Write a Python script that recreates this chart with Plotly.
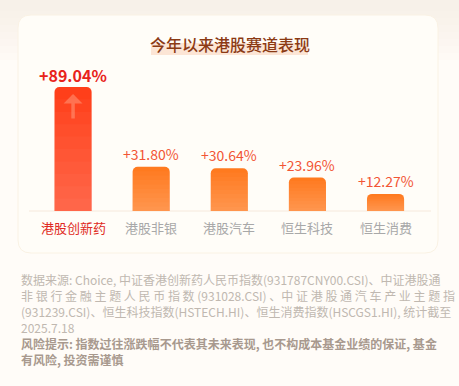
import plotly.graph_objects as go

# ---- data ----
categories = ["港股创新药", "港股非银", "港股汽车", "恒生科技", "恒生消费"]
values = [89.04, 31.80, 30.64, 23.96, 12.27]
value_labels = ["+89.04%", "+31.80%", "+30.64%", "+23.96%", "+12.27%"]
title_text = "今年以来港股赛道表现"
footer_lines = [
    "数据来源: Choice, 中证香港创新药人民币指数(931787CNY00.CSI)、中证港股通",
    "非 银 行 金 融 主 题 人 民 币 指 数 (931028.CSI) 、中 证 港 股 通 汽 车 产 业 主 题 指",
    "(931239.CSI)、恒生科技指数(HSTECH.HI)、恒生消费指数(HSCGS1.HI), 统计截至",
    "2025.7.18",
]
risk_lines = [
    "风险提示: 指数过往涨跌幅不代表其未来表现, 也不构成本基金业绩的保证, 基金",
    "有风险, 投资需谨慎",
]

W, H = 459, 386
FONT = "Noto Sans CJK SC"


def px(x):
    return x / W


def py(y):
    return 1 - y / H


top_colors = ["#FF3F1A"] + ["#FF7A1F"] * 4

fig = go.Figure()
fig.add_trace(go.Bar(
    x=categories, y=values,
    marker=dict(color=top_colors, cornerradius=5, line=dict(width=0)),
    hoverinfo="skip",
))
# subtle vertical gradient: lighter toward the bottom
steps = 10
for k in range(1, steps):
    frac = 1 - k / steps
    fig.add_trace(go.Bar(
        x=categories, y=[v * frac for v in values],
        marker=dict(color="rgba(255,255,255,0.028)", line=dict(width=0)),
        hoverinfo="skip",
    ))

shapes = []
# page background soft gradient at top
for i in range(8):
    shapes.append(dict(type="rect", xref="paper", yref="paper",
                       x0=0, x1=1, y0=py(60 - i * 7), y1=1,
                       fillcolor="rgba(248,236,222,0.10)", line=dict(width=0), layer="below"))
# rounded card
x0, x1, y0, y1, r = 18, 438, 15, 253, 13
path = (f"M {px(x0 + r)},{py(y0)} L {px(x1 - r)},{py(y0)} Q {px(x1)},{py(y0)} {px(x1)},{py(y0 + r)} "
        f"L {px(x1)},{py(y1 - r)} Q {px(x1)},{py(y1)} {px(x1 - r)},{py(y1)} "
        f"L {px(x0 + r)},{py(y1)} Q {px(x0)},{py(y1)} {px(x0)},{py(y1 - r)} "
        f"L {px(x0)},{py(y0 + r)} Q {px(x0)},{py(y0)} {px(x0 + r)},{py(y0)} Z")
shapes.append(dict(type="path", xref="paper", yref="paper", path=path,
                   fillcolor="#FFFDF8", line=dict(color="#FAF2E4", width=1), layer="below"))
# title highlight
shapes.append(dict(type="rect", xref="paper", yref="paper",
                   x0=px(151), x1=px(308), y0=py(55), y1=py(43),
                   fillcolor="#FCE5D5", line=dict(width=0), layer="below"))
# baseline
shapes.append(dict(type="line", xref="paper", yref="paper",
                   x0=px(29), x1=px(431), y0=py(211), y1=py(211),
                   line=dict(color="#F6E9DC", width=1), layer="below"))

annotations = []
annotations.append(dict(text=title_text, xref="paper", yref="paper", x=px(229.5), y=py(44),
                        xanchor="center", yanchor="middle", showarrow=False,
                        font=dict(family=FONT, size=16, color="#8B3A14", weight=500)))
for i, (c, v, lab) in enumerate(zip(categories, values, value_labels)):
    first = i == 0
    annotations.append(dict(text=lab, x=c, y=v, xref="x", yref="y",
                            xanchor="center", yanchor="middle", showarrow=False,
                            yshift=12 if first else 13,
                            font=dict(family=FONT, size=16 if first else 14,
                                      color="#E8231B" if first else "#F25535",
                                      weight="bold" if first else "normal")))
    annotations.append(dict(text=c, x=c, y=0, xref="x", yref="y",
                            xanchor="center", yanchor="middle", showarrow=False,
                            yshift=-16,
                            font=dict(family=FONT, size=13,
                                      color="#E02A22" if first else "#A8A8A8")))
# up arrow decoration in the leading bar
annotations.append(dict(x=categories[0], y=values[0] - 5, xref="x", yref="y",
                        ax=0, ay=26, text="", showarrow=True, arrowhead=1, arrowsize=0.9,
                        arrowwidth=3.5, arrowcolor="rgba(255,160,130,0.5)"))

ys = [279, 295, 311, 327]
for line, yy in zip(footer_lines, ys):
    annotations.append(dict(text=line, xref="paper", yref="paper", x=px(19), y=py(yy),
                            xanchor="left", yanchor="middle", showarrow=False,
                            font=dict(family=FONT, size=12, color="#C0B8B0")))
for line, yy in zip(risk_lines, [343, 359]):
    annotations.append(dict(text=line, xref="paper", yref="paper", x=px(19), y=py(yy),
                            xanchor="left", yanchor="middle", showarrow=False,
                            font=dict(family=FONT, size=12, color="#A8998E", weight="bold")))

fig.update_layout(
    width=W, height=H,
    margin=dict(l=0, r=0, t=0, b=0),
    paper_bgcolor="#FFFCF8", plot_bgcolor="rgba(0,0,0,0)",
    barmode="overlay", bargap=0.525,
    showlegend=False,
    xaxis=dict(domain=[px(34), px(424.6)], range=[-0.5, 4.5], visible=False, fixedrange=True),
    yaxis=dict(domain=[py(211), py(71.7)], range=[0, 100], visible=False, fixedrange=True),
    shapes=shapes, annotations=annotations,
)

fig.write_html("out.html")
